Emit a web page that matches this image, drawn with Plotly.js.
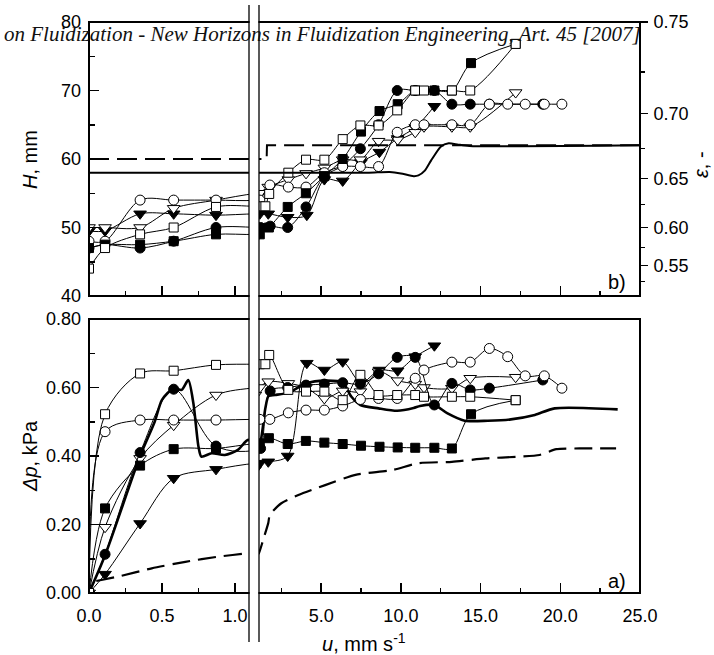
<!DOCTYPE html>
<html><head><meta charset="utf-8">
<script src="https://cdn.plot.ly/plotly-3.0.1.min.js"></script>
<style>body{margin:0;background:#fff}#chart{width:714px;height:655px}</style>
</head><body><div id="chart"></div>
<script>
// ---------- DATA ----------
// open squares
const uSqO  = [0,0.11,0.35,0.58,0.87,1.15,1.5,1.74,2.94,4.05,5.2,6.35,7.46,8.6,9.77,10.9,11.45,13.2,14.35,17.2];
const hSqO  = [44,47,49,50,53,53.1,53.1,54.9,58,59.9,59.9,62.9,64.9,64.9,67.1,70,70,70,70,76.8];
const dpSqO = [0,0.522,0.641,0.649,0.666,0.668,0.668,0.695,0.593,0.588,0.588,0.563,0.637,0.578,0.578,0.578,0.573,0.573,0.573,0.563];
// filled squares
const uSqF  = [0,0.11,0.35,0.58,0.87,1.15,1.72,2.9,4.04,5.2,6.35,7.5,8.66,9.8,10.9,12.1,13.2,14.4,17.2];
const hSqF  = [47,47.5,47.5,48,49,49,50,53,55,57.5,60,64,67,68,70,70,70,74,76.8];
const dpSqF = [0,0.247,0.372,0.42,0.422,0.437,0.452,0.435,0.444,0.439,0.435,0.43,0.427,0.425,0.424,0.424,0.422,0.522,0.563];
// open circles
const uCiO  = [0,0.11,0.35,0.58,0.87,1.15,1.78,2.94,4.05,5.2,6.35,7.46,8.6,9.77,10.9,11.45,13.2,14.35,15.55,16.7,17.8,19.0,20.1];
const hCiO  = [48,48,54,54,54,54,56.2,55.9,55.9,58,58.9,58.9,58.9,63.9,65,65,65,65,68,68,68,68,68];
const dpCiO = [0,0.471,0.505,0.505,0.505,0.507,0.507,0.526,0.534,0.534,0.546,0.565,0.568,0.568,0.627,0.651,0.674,0.674,0.714,0.69,0.634,0.634,0.598];
// filled circles
const uCiF  = [0,0.11,0.35,0.58,0.87,1.2,1.8,2.9,4.05,5.2,6.35,7.46,8.6,9.77,10.9,12.1,13.2,14.35,15.55,18.9];
const hCiF  = [47,47.5,47,48,50,50,50.2,50,53,57.5,59,61.5,65,70,70,70,68,68,68,68];
const dpCiF = [0,0.113,0.41,0.595,0.429,0.422,0.59,0.60,0.607,0.61,0.614,0.61,0.64,0.688,0.688,0.549,0.612,0.593,0.598,0.622];
// open down-triangles
const uTrO  = [0,0.11,0.35,0.58,0.87,1.15,1.68,2.94,4.05,5.2,6.35,7.46,8.6,9.8,10.9,11.45,13.2,14.35,17.2];
const hTrO  = [50,50,50,52.8,54,55,55.9,57,57.9,58.7,59.9,59.9,62.6,62.8,63.9,64.7,64.7,64.7,69.7];
const dpTrO = [0,0.192,0.393,0.49,0.578,0.6,0.617,0.612,0.6,0.568,0.59,0.588,0.646,0.62,0.61,0.6,0.598,0.627,0.63];
// filled down-triangles
const uTrF  = [0,0.11,0.35,0.58,0.87,1.15,1.68,2.9,4.1,5.2,6.35,7.5,8.65,9.8,10.9,12.1];
const hTrF  = [49.5,49.5,52,52,51.8,52,52,51.5,51.8,57,56.8,59.5,61,63,64.6,67.7];
const dpTrF = [0,0.055,0.203,0.335,0.361,0.379,0.383,0.40,0.671,0.651,0.675,0.614,0.651,0.649,0.69,0.722];
// thick solid curve (pressure drop)
const uThick  = [0,0.11,0.35,0.45,0.5,0.58,0.635,0.68,0.715,0.75,0.77,0.84,0.93,1.02,1.09,1.15,1.3,1.5,1.7,2.1,2.94,4.05,5.25,6.35,6.9,7.46,8.6,9.77,10.8,11.2,12.1,12.9,14.0,15.45,16.9,18.4,19.65,23.6];
const dpThick = [0,0.11,0.40,0.50,0.564,0.598,0.593,0.622,0.554,0.427,0.398,0.408,0.403,0.418,0.447,0.43,0.47,0.54,0.575,0.578,0.585,0.612,0.62,0.614,0.573,0.549,0.539,0.532,0.54,0.546,0.549,0.525,0.503,0.503,0.507,0.52,0.539,0.536];
// dashed curve (pressure drop)
const uDash  = [0.05,0.2,0.43,0.66,0.886,1.09,1.1,1.36,1.68,1.78,2.5,3.57,5.25,7.15,9.46,11.1,13.2,15.3,17.4,18.7,19.75,21.2,23.5];
const dpDash = [0.035,0.048,0.072,0.091,0.106,0.116,0.116,0.155,0.204,0.228,0.262,0.286,0.315,0.345,0.359,0.379,0.383,0.393,0.398,0.403,0.42,0.422,0.422];
// bed height curves
const uTopSolid = [0,1.1,5,8,9.3,10.0,10.8,11.1,11.5,11.9,12.5,13.0,13.6,14.3,25];
const hTopSolid = [58,58,58,58,58.1,57.9,57.5,57.6,58.3,59.8,61.8,62.3,62.1,61.9,62];
const uTopDash = [0,1.1,1.58,1.6,25];
const hTopDash = [60,60,60,62,62];
// ticks
const xTicksL = [0,0.5,1.0], xLabL = ['0.0','0.5','1.0'], xMinorL = [0.25,0.75];
const xTicksR = [5,10,15,20,25], xLabR = ['5.0','10.0','15.0','20.0','25.0'], xMinorR = [2.5,7.5,12.5,17.5,22.5];
const dpTicks = [0,0.2,0.4,0.6,0.8], dpLab = ['0.00','0.20','0.40','0.60','0.80'], dpMinor = [0.1,0.3,0.5,0.7];
const hTicks = [40,50,60,70,80], hMinor = [45,55,65,75];
const epsTicks = [0.55,0.60,0.65,0.70,0.75], epsLab = ['0.55','0.60','0.65','0.70','0.75'], epsMinor = [0.525,0.575,0.625,0.675,0.725];

// ---------- GEOMETRY ----------
const L=89, R=640, T=22, B=593, W=714, H=655;
const pw = R-L, ph = B-T;
const px = x => (x-L)/pw, py = y => (B-y)/ph;
const xL = [0, px(249)], xR = [px(259), 1];
const yTop = [py(296), 1], yBot = [0, py(319)];
const uMaxL = 1.096, uMinR = 1.1;
const hOfEps = e => 20/(1-e);   // epsilon scale tied to bed height

const tf = {family:'Liberation Sans, Arial, sans-serif', size:18, color:'black'};
const traces = [];
function add(u, v, top, st, rightY){
  const ya = top ? 'y3' : 'y';
  traces.push(Object.assign({x:u, y:v, xaxis: top?'x3':'x', yaxis:ya, type:'scatter', showlegend:false, hoverinfo:'skip', cliponaxis:true}, JSON.parse(JSON.stringify(st))));
  traces.push(Object.assign({x:u, y:v, xaxis: top?'x4':'x2', yaxis: rightY ? 'y4' : ya, type:'scatter', showlegend:false, hoverinfo:'skip', cliponaxis:true}, JSON.parse(JSON.stringify(st))));
}
const thin = {color:'black', width:1, shape:'spline', smoothing:0.9};
function mk(sym, filled, size){
  return {mode:'lines+markers', line:thin, marker:{symbol:sym, size:size, color: filled?'black':'white', line:{color:'black', width:1}}};
}
// curves
add(uTopDash, hTopDash, true, {mode:'lines', line:{color:'black', width:2, dash:'20px,8px'}}, true);
add(uTopSolid, hTopSolid, true, {mode:'lines', line:{color:'black', width:2, shape:'spline', smoothing:0.6}}, true);
add(uDash, dpDash, false, {mode:'lines', line:{color:'black', width:2.2, dash:'18px,8px', shape:'spline', smoothing:0.6}});
add(uThick, dpThick, false, {mode:'lines', line:{color:'black', width:2.6, shape:'spline', smoothing:0.7}});
// series
const series = [
  [uTrF,hTrF,dpTrF,'triangle-down',true,11],
  [uTrO,hTrO,dpTrO,'triangle-down',false,11],
  [uCiF,hCiF,dpCiF,'circle',true,10],
  [uCiO,hCiO,dpCiO,'circle',false,10],
  [uSqF,hSqF,dpSqF,'square',true,9],
  [uSqO,hSqO,dpSqO,'square',false,9]
];
series.forEach(s=>{ add(s[0], s[1], true, mk(s[3],s[4],s[5])); add(s[0], s[2], false, mk(s[3],s[4],s[5])); });

function xax(dom, range, tv, tt, mv, anchor, labels){
  return {domain:dom, range:range, anchor:anchor, tickmode:'array', tickvals:tv, ticktext:tt,
    ticks:'inside', ticklen:10, tickwidth:1.5, tickcolor:'black', showgrid:false, zeroline:false, showline:false,
    showticklabels:labels, tickfont:tf, ticklabelstandoff:10,
    minor:{tickmode:'array', tickvals:mv, ticks:'inside', ticklen:5, tickwidth:1.5, tickcolor:'black', showgrid:false}};
}
function yax(dom, range, tv, tt, mv, anchor){
  return {domain:dom, range:range, anchor:anchor, tickmode:'array', tickvals:tv, ticktext:tt,
    ticks:'inside', ticklen:10, tickwidth:1.5, tickcolor:'black', showgrid:false, zeroline:false, showline:false,
    tickfont:tf, ticklabelstandoff:7,
    minor:{tickmode:'array', tickvals:mv, ticks:'inside', ticklen:6, tickwidth:1.5, tickcolor:'black', showgrid:false}};
}
const layout = {
  width:W, height:H, margin:{l:L, r:W-R, t:T, b:H-B, pad:0},
  paper_bgcolor:'white', plot_bgcolor:'white', showlegend:false,
  xaxis: xax(xL, [0,uMaxL], xTicksL, xLabL, xMinorL, 'y', true),
  xaxis2: xax(xR, [uMinR,25], xTicksR, xLabR, xMinorR, 'y', true),
  xaxis3: xax(xL, [0,uMaxL], xTicksL, xLabL, xMinorL, 'y3', false),
  xaxis4: xax(xR, [uMinR,25], xTicksR, xLabR, xMinorR, 'y3', false),
  yaxis: yax(yBot, [0,0.8], dpTicks, dpLab, dpMinor, 'x'),
  yaxis3: yax(yTop, [40,80], hTicks, hTicks.map(String), hMinor, 'x3'),
  yaxis4: {overlaying:'y3', side:'right', anchor:'x4', range:[40,80], tickmode:'array',
    tickvals: epsTicks.map(hOfEps), ticktext: epsLab, ticks:'outside', ticklen:7, tickwidth:1.5, tickcolor:'black',
    showgrid:false, zeroline:false, showline:false, tickfont:tf, ticklabelstandoff:2,
    minor:{tickmode:'array', tickvals: epsMinor.map(hOfEps), ticks:'outside', ticklen:4, tickwidth:1.5, tickcolor:'black', showgrid:false}},
  shapes: [
    {type:'rect', xref:'paper', yref:'paper', x0:0, x1:1, y0:yTop[0], y1:1, line:{color:'black', width:2}, layer:'above'},
    {type:'rect', xref:'paper', yref:'paper', x0:0, x1:1, y0:0, y1:yBot[1], line:{color:'black', width:2}, layer:'above'},
    {type:'rect', xref:'paper', yref:'paper', x0:px(249.6), x1:px(258.4), y0:py(642), y1:py(5), fillcolor:'white', line:{width:0}, layer:'above'},
    {type:'line', xref:'paper', yref:'paper', x0:px(249), x1:px(249), y0:py(642), y1:py(5), line:{color:'black', width:1.3}, layer:'above'},
    {type:'line', xref:'paper', yref:'paper', x0:px(259), x1:px(259), y0:py(642), y1:py(5), line:{color:'black', width:1.3}, layer:'above'}
  ],
  annotations: [
    {xref:'paper', yref:'paper', x:px(643), y:py(34), xanchor:'right', yanchor:'middle', showarrow:false,
     text:'<i>on Fluidization - New Horizons in Fluidization Engineering, Art. 45 [2007]</i>',
     font:{family:'Liberation Serif, serif', size:21, color:'#111'}},
    {xref:'paper', yref:'paper', x:px(30), y:py(160), textangle:-90, showarrow:false, xanchor:'center', yanchor:'middle',
     text:'<i>H</i>, mm', font:{family:'Liberation Sans, Arial', size:20, color:'black'}},
    {xref:'paper', yref:'paper', x:px(30), y:py(456), textangle:-90, showarrow:false, xanchor:'center', yanchor:'middle',
     text:'<i>Δp</i>, kPa', font:{family:'Liberation Sans, Arial', size:20, color:'black'}},
    {xref:'paper', yref:'paper', x:px(701), y:py(165), textangle:-90, showarrow:false, xanchor:'center', yanchor:'middle',
     text:'<i>ε</i>, -', font:{family:'Liberation Sans, Arial', size:20, color:'black'}},
    {xref:'paper', yref:'paper', x:px(364), y:py(642), showarrow:false, xanchor:'center', yanchor:'middle',
     text:'<i>u</i>, mm s<sup>-1</sup>', font:{family:'Liberation Sans, Arial', size:20, color:'black'}},
    {xref:'paper', yref:'paper', x:px(628), y:py(282), showarrow:false, xanchor:'right', yanchor:'middle',
     text:'b)', font:{family:'Liberation Sans, Arial', size:20, color:'black'}},
    {xref:'paper', yref:'paper', x:px(628), y:py(581), showarrow:false, xanchor:'right', yanchor:'middle',
     text:'a)', font:{family:'Liberation Sans, Arial', size:20, color:'black'}}
  ]
};
Plotly.newPlot('chart', traces, layout, {staticPlot:true, displayModeBar:false});
</script></body></html>
